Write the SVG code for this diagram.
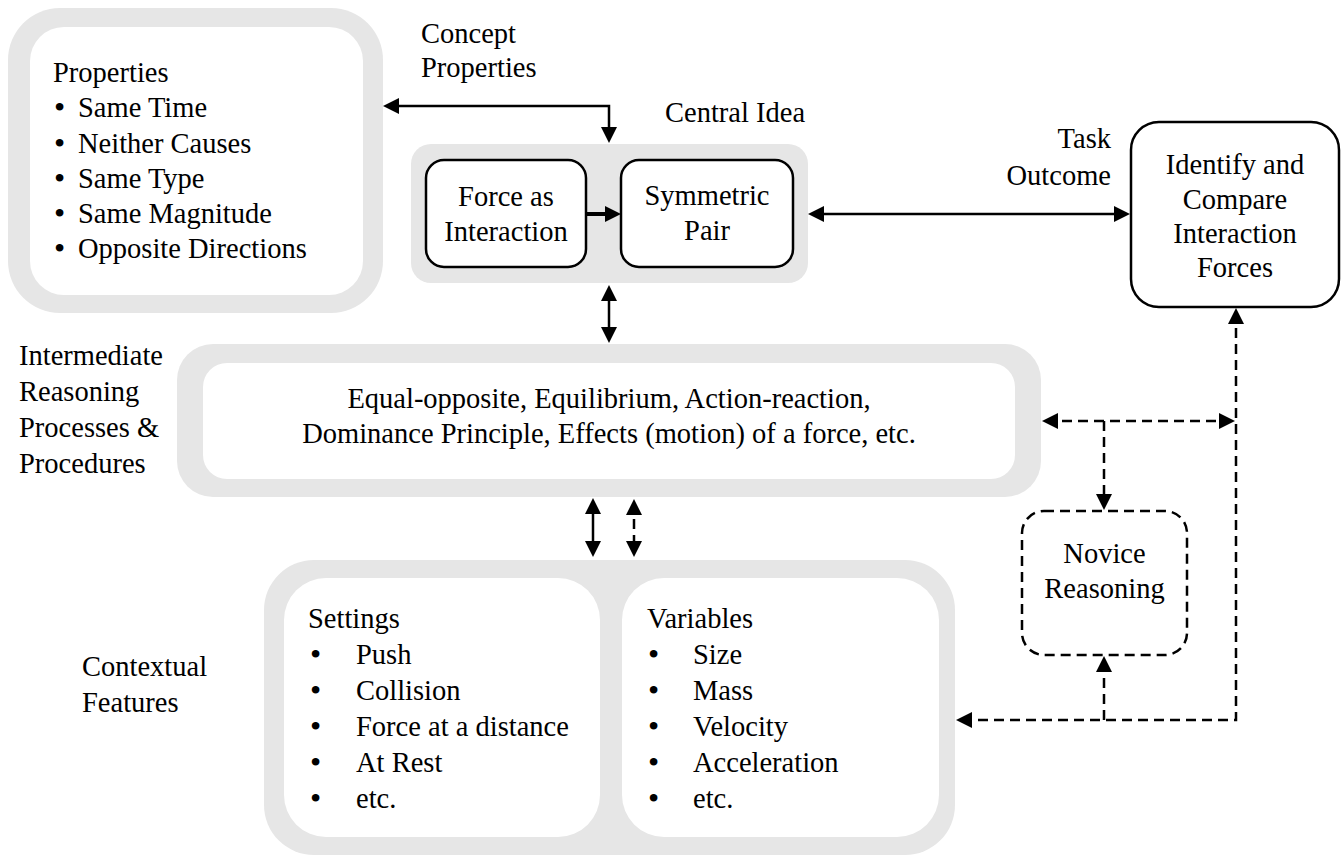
<svg xmlns="http://www.w3.org/2000/svg" width="1343" height="856" viewBox="0 0 1343 856" font-family="'Liberation Serif', 'DejaVu Serif', 'Times New Roman', serif">
<defs>
<style>
text { font-family: "Liberation Serif", "DejaVu Serif", "Times New Roman", serif; font-size: 28.5px; fill: #000; }
.c { text-anchor: middle; }
.e { text-anchor: end; }
.bul { font-size: 32px; }
.frame { fill: #e6e6e6; }
.inner { fill: #ffffff; }
.box { fill: #ffffff; stroke: #000; stroke-width: 2.5; }
.dbox { fill: #ffffff; stroke: #000; stroke-width: 2.5; stroke-dasharray: 10 6; }
.ln { fill: none; stroke: #000; stroke-width: 2.5; }
.thick { fill: none; stroke: #000; stroke-width: 4; }
.dl { fill: none; stroke: #000; stroke-width: 2.5; stroke-dasharray: 10 6; }
</style>
<marker id="ah" viewBox="0 0 16 16" refX="12" refY="8" markerWidth="16" markerHeight="16" markerUnits="userSpaceOnUse" orient="auto-start-reverse">
<path d="M0,0 L16,8 L0,16 Z" fill="#000"/>
</marker>
</defs>

<g id="properties">
<rect class="frame" x="8" y="8" width="375" height="305" rx="52"/>
<rect class="inner" x="30" y="27" width="333" height="268" rx="34"/>
<text x="53" y="82">Properties</text>
<text y="117"><tspan class="bul" x="54" y="118">•</tspan><tspan x="78" y="117">Same Time</tspan></text>
<text y="153"><tspan class="bul" x="54" y="154">•</tspan><tspan x="78" y="153">Neither Causes</tspan></text>
<text y="188"><tspan class="bul" x="54" y="189">•</tspan><tspan x="78" y="188">Same Type</tspan></text>
<text y="223"><tspan class="bul" x="54" y="224">•</tspan><tspan x="78" y="223">Same Magnitude</tspan></text>
<text y="258"><tspan class="bul" x="54" y="259">•</tspan><tspan x="78" y="258">Opposite Directions</tspan></text>
</g>

<g id="concept-properties-label">
<text x="421" y="43">Concept</text>
<text x="421" y="77">Properties</text>
</g>

<g id="central-idea">
<rect class="frame" x="411" y="144" width="397" height="139" rx="20"/>
<text x="665" y="122">Central Idea</text>
</g>

<g id="force-as-interaction">
<rect class="box" x="426" y="160" width="160" height="107" rx="18"/>
<text class="c" x="506" y="206">Force as</text>
<text class="c" x="506" y="241">Interaction</text>
</g>

<g id="symmetric-pair">
<rect class="box" x="621" y="160" width="172" height="107" rx="18"/>
<text class="c" x="707" y="205">Symmetric</text>
<text class="c" x="707" y="240">Pair</text>
</g>

<g id="task-outcome-label">
<text class="e" x="1111" y="148">Task</text>
<text class="e" x="1111" y="185">Outcome</text>
</g>

<g id="identify-compare">
<rect class="box" x="1131" y="122" width="208" height="185" rx="28"/>
<text class="c" x="1235" y="174">Identify and</text>
<text class="c" x="1235" y="209">Compare</text>
<text class="c" x="1235" y="243">Interaction</text>
<text class="c" x="1235" y="277">Forces</text>
</g>

<g id="intermediate-label">
<text x="19" y="365">Intermediate</text>
<text x="19" y="401">Reasoning</text>
<text x="19" y="437">Processes &amp;</text>
<text x="19" y="473">Procedures</text>
</g>

<g id="intermediate">
<rect class="frame" x="177" y="344" width="864" height="153" rx="36"/>
<rect class="inner" x="203" y="363" width="812" height="116" rx="24"/>
<text class="c" x="609" y="408">Equal-opposite, Equilibrium, Action-reaction,</text>
<text class="c" x="609" y="443">Dominance Principle, Effects (motion) of a force, etc.</text>
</g>

<g id="novice-reasoning">
<rect class="dbox" x="1022" y="511" width="165" height="144" rx="22"/>
<text class="c" x="1104.5" y="563">Novice</text>
<text class="c" x="1104.5" y="598">Reasoning</text>
</g>

<g id="contextual-label">
<text x="82" y="676">Contextual</text>
<text x="82" y="712">Features</text>
</g>

<g id="contextual-features">
<rect class="frame" x="264" y="560" width="691" height="295" rx="50"/>
<g id="settings">
<rect class="inner" x="284" y="578" width="316" height="259" rx="42"/>
<text x="308" y="628">Settings</text>
<text y="664"><tspan class="bul" x="310" y="665">•</tspan><tspan x="356" y="664">Push</tspan></text>
<text y="700"><tspan class="bul" x="310" y="701">•</tspan><tspan x="356" y="700">Collision</tspan></text>
<text y="736"><tspan class="bul" x="310" y="737">•</tspan><tspan x="356" y="736">Force at a distance</tspan></text>
<text y="772"><tspan class="bul" x="310" y="773">•</tspan><tspan x="356" y="772">At Rest</tspan></text>
<text y="808"><tspan class="bul" x="310" y="809">•</tspan><tspan x="356" y="808">etc.</tspan></text>
</g>
<g id="variables">
<rect class="inner" x="622" y="578" width="317" height="259" rx="42"/>
<text x="647" y="628">Variables</text>
<text y="664"><tspan class="bul" x="648" y="665">•</tspan><tspan x="693" y="664">Size</tspan></text>
<text y="700"><tspan class="bul" x="648" y="701">•</tspan><tspan x="693" y="700">Mass</tspan></text>
<text y="736"><tspan class="bul" x="648" y="737">•</tspan><tspan x="693" y="736">Velocity</tspan></text>
<text y="772"><tspan class="bul" x="648" y="773">•</tspan><tspan x="693" y="772">Acceleration</tspan></text>
<text y="808"><tspan class="bul" x="648" y="809">•</tspan><tspan x="693" y="808">etc.</tspan></text>
</g>
</g>

<g id="connectors">
<path class="ln" d="M387,106 H609 V139" marker-start="url(#ah)" marker-end="url(#ah)"/>
<path class="thick" d="M586,214 H617" marker-end="url(#ah)"/>
<path class="ln" d="M812,214 H1126" marker-start="url(#ah)" marker-end="url(#ah)"/>
<path class="ln" d="M609,289 V339" marker-start="url(#ah)" marker-end="url(#ah)"/>
<path class="ln" d="M593,502 V553" marker-start="url(#ah)" marker-end="url(#ah)"/>
<path class="dl" d="M634,503 V553" marker-start="url(#ah)" marker-end="url(#ah)"/>
<path class="dl" d="M1046,421 H1231" marker-start="url(#ah)" marker-end="url(#ah)"/>
<path class="dl" d="M1236,312 V720 H960" marker-start="url(#ah)" marker-end="url(#ah)"/>
<path class="dl" d="M1104,421 V506" marker-end="url(#ah)"/>
<path class="dl" d="M1104,720 V660" marker-end="url(#ah)"/>
</g>
</svg>
